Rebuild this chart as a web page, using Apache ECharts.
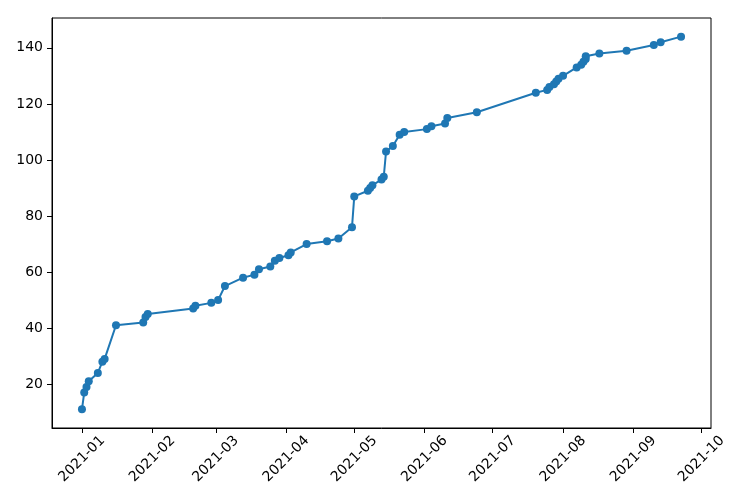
<!DOCTYPE html>
<html>
<head>
<meta charset="utf-8">
<script src="https://cdn.jsdelivr.net/npm/echarts@6/dist/echarts.min.js"></script>
<style>
  html, body { margin: 0; padding: 0; background: #fff; }
  #chart { width: 740px; height: 500px; }
</style>
</head>
<body>
<div id="chart"></div>
<script>
// dates and running totals
const dates = [
  '2021-01-01', '2021-01-02', '2021-01-03', '2021-01-04', '2021-01-08', '2021-01-10', '2021-01-11',
  '2021-01-16', '2021-01-28', '2021-01-29', '2021-01-30', '2021-02-19', '2021-02-20', '2021-02-27',
  '2021-03-02', '2021-03-05', '2021-03-13', '2021-03-18', '2021-03-20', '2021-03-25', '2021-03-27',
  '2021-03-29', '2021-04-02', '2021-04-03', '2021-04-10', '2021-04-19', '2021-04-24', '2021-04-30',
  '2021-05-01', '2021-05-07', '2021-05-08', '2021-05-09', '2021-05-13', '2021-05-14', '2021-05-15',
  '2021-05-18', '2021-05-21', '2021-05-23', '2021-06-02', '2021-06-04', '2021-06-10', '2021-06-11',
  '2021-06-24', '2021-07-20', '2021-07-25', '2021-07-26', '2021-07-28', '2021-07-29', '2021-07-30',
  '2021-08-01', '2021-08-07', '2021-08-09', '2021-08-10', '2021-08-11', '2021-08-11', '2021-08-17',
  '2021-08-29', '2021-09-10', '2021-09-13', '2021-09-22'
];
const counts = [
  11, 17, 19, 21, 24, 28, 29,
  41, 42, 44, 45, 47, 48, 49,
  50, 55, 58, 59, 61, 62, 64,
  65, 66, 67, 70, 71, 72, 76,
  87, 89, 90, 91, 93, 94, 103,
  105, 109, 110, 111, 112, 113, 115,
  117, 124, 125, 126, 127, 128, 129,
  130, 133, 134, 135, 136, 137, 138,
  139, 141, 142, 144
];
const monthTicks = [
  '2021-01-01', '2021-02-01', '2021-03-01', '2021-04-01', '2021-05-01',
  '2021-06-01', '2021-07-01', '2021-08-01', '2021-09-01', '2021-10-01'
];
const yTicks = [20, 40, 60, 80, 100, 120, 140];

const ts = s => new Date(s + 'T00:00:00Z').getTime();
const tStart = ts(dates[0]), tEnd = ts(dates[dates.length - 1]);
const xPad = (tEnd - tStart) * 0.05;
const yMin = Math.min(...counts), yMax = Math.max(...counts);
const yPad = (yMax - yMin) * 0.05;

const chart = echarts.init(document.getElementById('chart'));
const font = 'DejaVu Sans';

chart.setOption({
  backgroundColor: '#fff',
  animation: false,
  grid: {
    left: 52, right: 29, top: 18, bottom: 72,
    show: true, borderColor: '#000', borderWidth: 1
  },
  xAxis: {
    type: 'value',
    min: tStart - xPad,
    max: tEnd + xPad,
    axisLine: { show: true, lineStyle: { color: '#000', width: 1 } },
    axisTick: {
      show: true, length: 5, lineStyle: { color: '#000' },
      customValues: monthTicks.map(ts)
    },
    axisLabel: {
      customValues: monthTicks.map(ts),
      rotate: 45,
      align: 'center',
      verticalAlign: 'middle',
      margin: 31,
      color: '#000',
      fontFamily: font,
      fontSize: 14,
      formatter: v => {
        const d = new Date(v);
        return d.getUTCFullYear() + '-' + String(d.getUTCMonth() + 1).padStart(2, '0');
      }
    },
    splitLine: { show: false }
  },
  yAxis: {
    type: 'value',
    min: yMin - yPad,
    max: yMax + yPad,
    axisLine: { show: true, lineStyle: { color: '#000', width: 1 } },
    axisTick: {
      show: true, length: 5, lineStyle: { color: '#000' },
      customValues: yTicks
    },
    axisLabel: {
      customValues: yTicks,
      color: '#000',
      fontFamily: font,
      fontSize: 14,
      margin: 9
    },
    splitLine: { show: false }
  },
  series: [{
    type: 'line',
    data: dates.map((d, i) => [ts(d), counts[i]]),
    symbol: 'circle',
    symbolSize: 8,
    lineStyle: { color: '#1f77b4', width: 2 },
    itemStyle: { color: '#1f77b4' }
  }]
});
</script>
</body>
</html>
